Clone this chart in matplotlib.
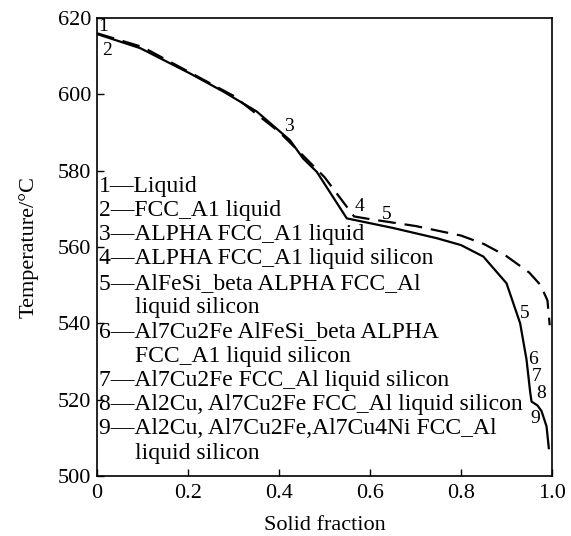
import matplotlib.pyplot as plt

plt.rcParams['font.family'] = ['Liberation Serif', 'DejaVu Serif']

# Scheil solidification (solid line)
scheil_fs = [0.0, 0.095, 0.204, 0.278, 0.351, 0.424, 0.453, 0.483, 0.549,
             0.65, 0.747, 0.80, 0.849, 0.90, 0.93, 0.944, 0.952, 0.955,
             0.968, 0.977, 0.988, 0.993]
scheil_T = [615.8, 612.1, 605.5, 600.7, 595.5, 588.0, 583.2, 579.7, 567.5,
            565.0, 562.3, 560.5, 557.5, 550.5, 540.0, 530.5, 522.0, 519.5,
            518.5, 517.0, 513.0, 507.3]

# equilibrium solidification (dashed line)
equil_fs = [0.0, 0.10, 0.20, 0.30, 0.40, 0.45, 0.50, 0.565, 0.60, 0.70,
            0.80, 0.85, 0.90, 0.95, 0.975, 0.99, 0.995]
equil_T = [616.0, 612.4, 606.0, 599.6, 590.2, 584.3, 578.3, 568.0, 567.3,
           565.5, 563.0, 560.8, 557.6, 553.3, 550.0, 546.0, 539.5]

# stage numbers written next to the curves
stage_num = ['1', '2', '3', '4', '5', '5', '6', '7', '8', '9']
stage_fs = [0.013, 0.023, 0.422, 0.578, 0.637, 0.941, 0.958, 0.967, 0.977, 0.963]
stage_T = [617.9, 611.6, 591.5, 570.7, 568.6, 542.7, 530.6, 526.0, 521.6, 515.0]

# legend block: (text, is continuation line)
legend_lines = [
    ("1\u2014Liquid", False),
    ("2\u2014FCC_A1 liquid", False),
    ("3\u2014ALPHA FCC_A1 liquid", False),
    ("4\u2014ALPHA FCC_A1 liquid silicon", False),
    ("5\u2014AlFeSi_beta ALPHA FCC_Al", False),
    ("liquid silicon", True),
    ("6\u2014Al7Cu2Fe AlFeSi_beta ALPHA", False),
    ("FCC_A1 liquid silicon", True),
    ("7\u2014Al7Cu2Fe FCC_Al liquid silicon", False),
    ("8\u2014Al2Cu, Al7Cu2Fe FCC_Al liquid silicon", False),
    ("9\u2014Al2Cu, Al7Cu2Fe,Al7Cu4Ni FCC_Al", False),
    ("liquid silicon", True),
]

fig = plt.figure(figsize=(5.71, 5.36), dpi=100)
ax = fig.add_axes([97 / 571, 1 - 476 / 536, 455 / 571, 458 / 536])

ax.plot(scheil_fs, scheil_T, color='black', lw=1.6)
ax.plot(equil_fs, equil_T, color='black', lw=1.6, dashes=(8, 4))

for s, x, y in zip(stage_num, stage_fs, stage_T):
    ax.text(x, y, s, fontsize=14, ha='center', va='center')

for i, (line, cont) in enumerate(legend_lines):
    x0 = 0.083 if cont else 0.004
    ax.text(x0, 0.633 - i * 0.053, line, transform=ax.transAxes,
            fontsize=17, ha='left', va='center')

ax.set_xlim(0, 1.0)
ax.set_ylim(500, 620)
ax.set_xticks([0, 0.2, 0.4, 0.6, 0.8, 1.0])
ax.set_xticklabels(['0', '0.2', '0.4', '0.6', '0.8', '1.0'])
ax.set_yticks([500, 520, 540, 560, 580, 600, 620])
ax.tick_params(direction='in', length=5, width=1, labelsize=16)
ax.tick_params(axis='x', pad=6)
ax.tick_params(axis='y', pad=4)
for sp in ax.spines.values():
    sp.set_linewidth(1.2)

ax.set_xlabel('Solid fraction', fontsize=16, labelpad=9)
ax.set_ylabel('Temperature/\u00b0C', fontsize=16, labelpad=14)

fig.savefig('out.png', dpi=100)
